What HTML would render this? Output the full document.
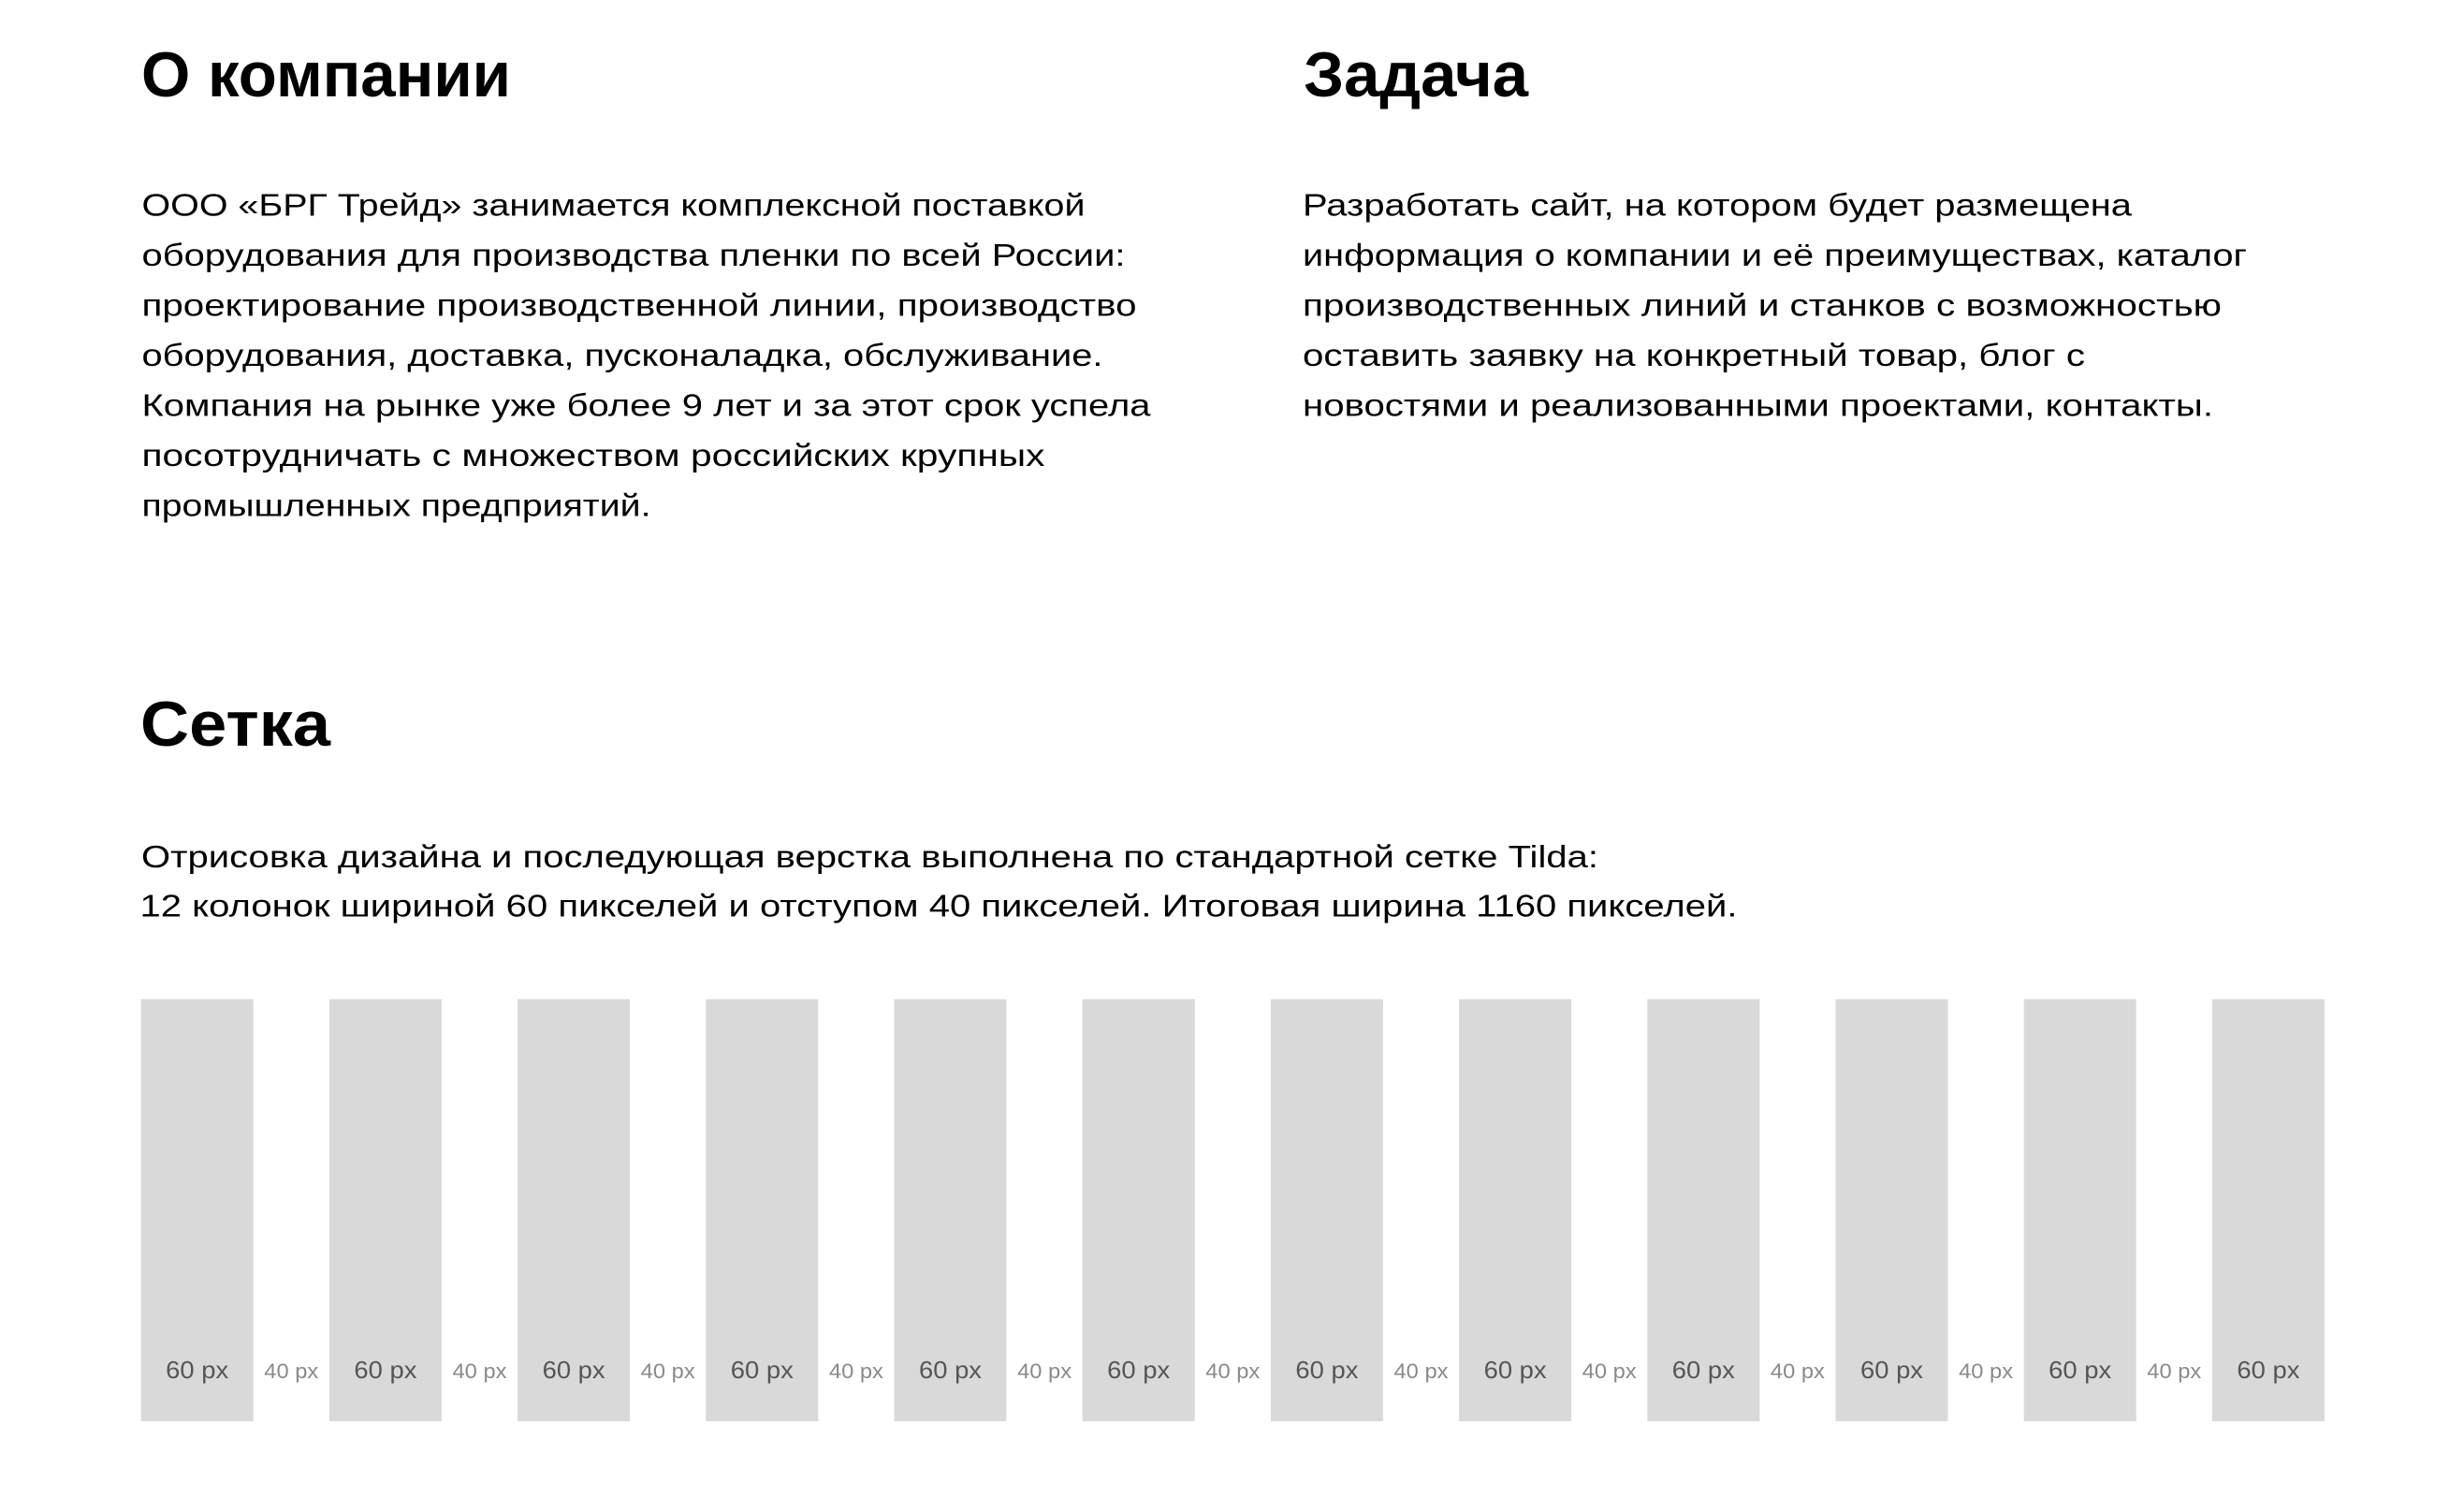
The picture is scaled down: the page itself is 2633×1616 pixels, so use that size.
<!DOCTYPE html>
<html>
<head>
<meta charset="utf-8">
<style>
html,body{margin:0;padding:0;background:#fff;}
svg{display:block;}
.h{font-family:"Liberation Sans",Arial,sans-serif;font-weight:700;font-size:68px;fill:#000;}
.b{font-family:"Liberation Sans",Arial,sans-serif;font-size:33px;fill:#000;}
.l6{font-family:"Liberation Sans",Arial,sans-serif;font-size:26px;fill:#555;}
.l4{font-family:"Liberation Sans",Arial,sans-serif;font-size:22px;fill:#8a8a8a;}
</style>
</head>
<body>
<svg width="2633" height="1616" viewBox="0 0 2633 1616" xmlns="http://www.w3.org/2000/svg">
<rect x="0" y="0" width="2633" height="1616" fill="#fff"/>

<!-- Headings -->
<text class="h" x="151" y="103" textLength="395" lengthAdjust="spacingAndGlyphs">О компании</text>
<text class="h" x="1393" y="103" textLength="240" lengthAdjust="spacingAndGlyphs">Задача</text>
<text class="h" x="150" y="797" textLength="203" lengthAdjust="spacingAndGlyphs">Сетка</text>

<!-- Left column -->
<text class="b" x="151.5" y="230.5" textLength="1008" lengthAdjust="spacingAndGlyphs">ООО «БРГ Трейд» занимается комплексной поставкой</text>
<text class="b" x="151.5" y="284" textLength="1051" lengthAdjust="spacingAndGlyphs">оборудования для производства пленки по всей России:</text>
<text class="b" x="151.5" y="337.5" textLength="1063" lengthAdjust="spacingAndGlyphs">проектирование производственной линии, производство</text>
<text class="b" x="151.5" y="391" textLength="1027" lengthAdjust="spacingAndGlyphs">оборудования, доставка, пусконаладка, обслуживание.</text>
<text class="b" x="151.5" y="444.5" textLength="1078" lengthAdjust="spacingAndGlyphs">Компания на рынке уже более 9 лет и за этот срок успела</text>
<text class="b" x="151.5" y="498" textLength="965" lengthAdjust="spacingAndGlyphs">посотрудничать с множеством российских крупных</text>
<text class="b" x="151.5" y="551.5" textLength="544" lengthAdjust="spacingAndGlyphs">промышленных предприятий.</text>

<!-- Right column -->
<text class="b" x="1392" y="230.5" textLength="886" lengthAdjust="spacingAndGlyphs">Разработать сайт, на котором будет размещена</text>
<text class="b" x="1392" y="284" textLength="1009" lengthAdjust="spacingAndGlyphs">информация о компании и её преимуществах, каталог</text>
<text class="b" x="1392" y="337.5" textLength="982" lengthAdjust="spacingAndGlyphs">производственных линий и станков с возможностью</text>
<text class="b" x="1392" y="391" textLength="836" lengthAdjust="spacingAndGlyphs">оставить заявку на конкретный товар, блог с</text>
<text class="b" x="1392" y="444.5" textLength="973" lengthAdjust="spacingAndGlyphs">новостями и реализованными проектами, контакты.</text>

<!-- Grid text -->
<text class="b" x="151" y="927" textLength="1557" lengthAdjust="spacingAndGlyphs">Отрисовка дизайна и последующая верстка выполнена по стандартной сетке Tilda:</text>
<text class="b" x="149.5" y="979.5" textLength="1707" lengthAdjust="spacingAndGlyphs">12 колонок шириной 60 пикселей и отступом 40 пикселей. Итоговая ширина 1160 пикселей.</text>

<!-- Columns -->
<g fill="#d9d9d9">
<rect x="150.7" y="1068" width="120" height="451"/>
<rect x="351.9" y="1068" width="120" height="451"/>
<rect x="553.1" y="1068" width="120" height="451"/>
<rect x="754.3" y="1068" width="120" height="451"/>
<rect x="955.5" y="1068" width="120" height="451"/>
<rect x="1156.7" y="1068" width="120" height="451"/>
<rect x="1357.9" y="1068" width="120" height="451"/>
<rect x="1559.1" y="1068" width="120" height="451"/>
<rect x="1760.3" y="1068" width="120" height="451"/>
<rect x="1961.5" y="1068" width="120" height="451"/>
<rect x="2162.7" y="1068" width="120" height="451"/>
<rect x="2363.9" y="1068" width="120" height="451"/>
</g>

<!-- Column labels -->
<g text-anchor="middle">
<text class="l6" x="210.7" y="1473" textLength="67" lengthAdjust="spacingAndGlyphs">60 px</text>
<text class="l6" x="411.9" y="1473" textLength="67" lengthAdjust="spacingAndGlyphs">60 px</text>
<text class="l6" x="613.1" y="1473" textLength="67" lengthAdjust="spacingAndGlyphs">60 px</text>
<text class="l6" x="814.3" y="1473" textLength="67" lengthAdjust="spacingAndGlyphs">60 px</text>
<text class="l6" x="1015.5" y="1473" textLength="67" lengthAdjust="spacingAndGlyphs">60 px</text>
<text class="l6" x="1216.7" y="1473" textLength="67" lengthAdjust="spacingAndGlyphs">60 px</text>
<text class="l6" x="1417.9" y="1473" textLength="67" lengthAdjust="spacingAndGlyphs">60 px</text>
<text class="l6" x="1619.1" y="1473" textLength="67" lengthAdjust="spacingAndGlyphs">60 px</text>
<text class="l6" x="1820.3" y="1473" textLength="67" lengthAdjust="spacingAndGlyphs">60 px</text>
<text class="l6" x="2021.5" y="1473" textLength="67" lengthAdjust="spacingAndGlyphs">60 px</text>
<text class="l6" x="2222.7" y="1473" textLength="67" lengthAdjust="spacingAndGlyphs">60 px</text>
<text class="l6" x="2423.9" y="1473" textLength="67" lengthAdjust="spacingAndGlyphs">60 px</text>

<text class="l4" x="311.3" y="1473" textLength="58" lengthAdjust="spacingAndGlyphs">40 px</text>
<text class="l4" x="512.5" y="1473" textLength="58" lengthAdjust="spacingAndGlyphs">40 px</text>
<text class="l4" x="713.7" y="1473" textLength="58" lengthAdjust="spacingAndGlyphs">40 px</text>
<text class="l4" x="914.9" y="1473" textLength="58" lengthAdjust="spacingAndGlyphs">40 px</text>
<text class="l4" x="1116.1" y="1473" textLength="58" lengthAdjust="spacingAndGlyphs">40 px</text>
<text class="l4" x="1317.3" y="1473" textLength="58" lengthAdjust="spacingAndGlyphs">40 px</text>
<text class="l4" x="1518.5" y="1473" textLength="58" lengthAdjust="spacingAndGlyphs">40 px</text>
<text class="l4" x="1719.7" y="1473" textLength="58" lengthAdjust="spacingAndGlyphs">40 px</text>
<text class="l4" x="1920.9" y="1473" textLength="58" lengthAdjust="spacingAndGlyphs">40 px</text>
<text class="l4" x="2122.1" y="1473" textLength="58" lengthAdjust="spacingAndGlyphs">40 px</text>
<text class="l4" x="2323.3" y="1473" textLength="58" lengthAdjust="spacingAndGlyphs">40 px</text>
</g>
</svg>
</body>
</html>
